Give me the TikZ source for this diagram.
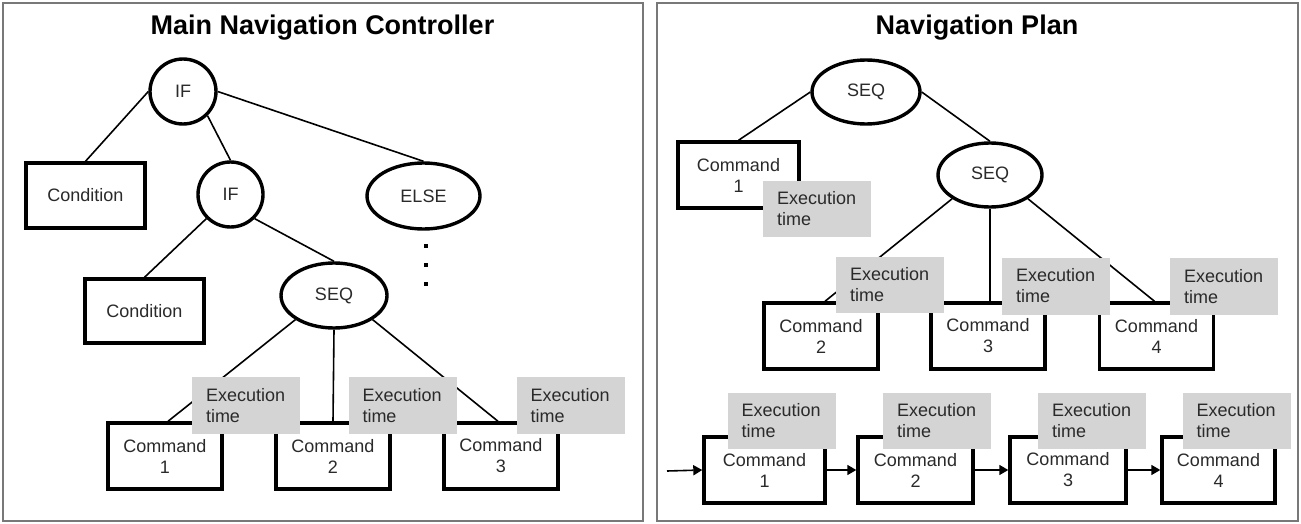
\documentclass[tikz,border=0pt]{standalone}
\usepackage{fontspec}
\setmainfont{Liberation Sans}
\usetikzlibrary{shapes.geometric,arrows.meta}
\definecolor{execgray}{HTML}{D4D4D4}
\definecolor{txt}{HTML}{2A2A2A}
\definecolor{panel}{HTML}{787878}
\begin{document}
\begin{tikzpicture}[x=1pt,y=-1pt,
  every node/.style={font=\fontsize{18}{21}\selectfont, text=txt},
  title/.style={font=\fontsize{27}{30}\selectfont\bfseries, text=black, inner sep=0pt},
  ell/.style={ellipse, draw=black, line width=3.4pt, inner sep=0pt, fill=white},
  cbox/.style={rectangle, draw=black, line width=3.4pt, inner sep=0pt, fill=white, align=center},
  exec/.style={rectangle, fill=execgray, text width=80pt, align=left, inner xsep=14pt, inner ysep=0pt},
  conn/.style={line width=1.6pt, draw=black},
  arr/.style={line width=1.6pt, draw=black, -{Triangle[length=9pt,width=10pt]}},
  dotn/.style={rectangle, fill=black, inner sep=0pt, minimum size=4.5pt}
]
\useasboundingbox (0,0) rectangle (1301,524);
% panels
\draw[panel, line width=2.2pt] (3,3) rectangle (643,521);
\draw[panel, line width=2.2pt] (657,3) rectangle (1298,521);

% ---------- left panel ----------
\node[title] (t1) at (322.5,28) {Main Navigation Controller};
\node[ell, minimum width=66pt, minimum height=65pt] (if1) at (183,91.5) {IF};
\node[cbox, minimum width=119pt, minimum height=65pt] (cond1) at (85.5,195.5) {Condition};
\node[ell, minimum width=65pt, minimum height=65pt] (if2) at (230.5,194.5) {IF};
\node[ell, minimum width=113pt, minimum height=66pt] (else) at (423.5,196) {ELSE};
\node[dotn] (d1) at (426,246) {};
\node[dotn] (d2) at (426,265) {};
\node[dotn] (d3) at (426,284) {};
\node[cbox, minimum width=119pt, minimum height=64pt] (cond2) at (144.5,311) {Condition};
\node[ell, minimum width=106pt, minimum height=65pt] (seq) at (334,295.5) {SEQ};
\node[cbox, minimum width=114pt, minimum height=66pt] (c1) at (165,456) {Command\\1};
\node[cbox, minimum width=114pt, minimum height=66pt] (c2) at (333,456) {Command\\2};
\node[cbox, minimum width=114pt, minimum height=66pt] (c3) at (501,456) {Command\\3};

\draw[conn] (if1.west) -- (cond1.north);
\draw[conn] (if1.south east) -- (if2.north);
\draw[conn] (if1.east) -- (else.north);
\draw[conn] (if2.south west) -- (cond2.north);
\draw[conn] (if2.south east) -- (seq.north);
\draw[conn] (seq.south west) -- ([xshift=3pt]c1.north);
\draw[conn] (seq.south) -- (c2.north);
\draw[conn] (seq.south east) -- ([xshift=-3pt]c3.north);

\node[exec, minimum height=57pt] (e1) at (246,405.5) {Execution\\time};
\node[exec, minimum height=57pt] (e2) at (402.5,405.5) {Execution\\time};
\node[exec, minimum height=57pt] (e3) at (570.5,405.5) {Execution\\time};

% ---------- right panel ----------
\node[title] (t2) at (977,28) {Navigation Plan};
\node[ell, minimum width=108pt, minimum height=64pt] (seqa) at (866,92) {SEQ};
\node[cbox, minimum width=121pt, minimum height=66pt] (rc1) at (738.5,175) {Command\\1};
\node[ell, minimum width=104pt, minimum height=64pt] (seqb) at (990,175) {SEQ};
\node[cbox, minimum width=114pt, minimum height=66pt] (rc2) at (821,336) {Command\\2};
\node[cbox, minimum width=114pt, minimum height=66pt] (rc3) at (988,336) {Command\\3};
\node[cbox, minimum width=114pt, minimum height=66pt] (rc4) at (1156.5,336) {Command\\4};

\draw[conn] (seqa.west) -- (rc1.north);
\draw[conn] (seqa.east) -- (seqb.north);
\draw[conn] (seqb.south west) -- ([xshift=4pt]rc2.north);
\draw[conn] (seqb.south) -- ([xshift=2pt]rc3.north);
\draw[conn] (seqb.south east) -- ([xshift=-2pt]rc4.north);

\node[exec, minimum height=56pt] (ea) at (817,209) {Execution\\time};
\node[exec, minimum height=56pt] (eb2) at (890,285) {Execution\\time};
\node[exec, minimum height=57pt] (eb3) at (1056,286) {Execution\\time};
\node[exec, minimum height=57pt] (eb4) at (1224,286.5) {Execution\\time};

% bottom chain
\coordinate (start) at (667,471);
\node[cbox, minimum width=121pt, minimum height=66pt] (b1) at (764.5,470) {Command\\1};
\node[cbox, minimum width=115pt, minimum height=66pt] (b2) at (915.5,470) {Command\\2};
\node[cbox, minimum width=116pt, minimum height=66pt] (b3) at (1068,470) {Command\\3};
\node[cbox, minimum width=113pt, minimum height=66pt] (b4) at (1218.5,470) {Command\\4};

\draw[arr] (start) -- (b1.west);
\draw[arr] (b1.east) -- (b2.west);
\draw[arr] (b2.east) -- (b3.west);
\draw[arr] (b3.east) -- (b4.west);

\node[exec, minimum height=56pt] (ec1) at (781.5,420.5) {Execution\\time};
\node[exec, minimum height=56pt] (ec2) at (937,420.5) {Execution\\time};
\node[exec, minimum height=56pt] (ec3) at (1092,420.5) {Execution\\time};
\node[exec, minimum height=56pt] (ec4) at (1236.5,420.5) {Execution\\time};
\end{tikzpicture}
\end{document}
